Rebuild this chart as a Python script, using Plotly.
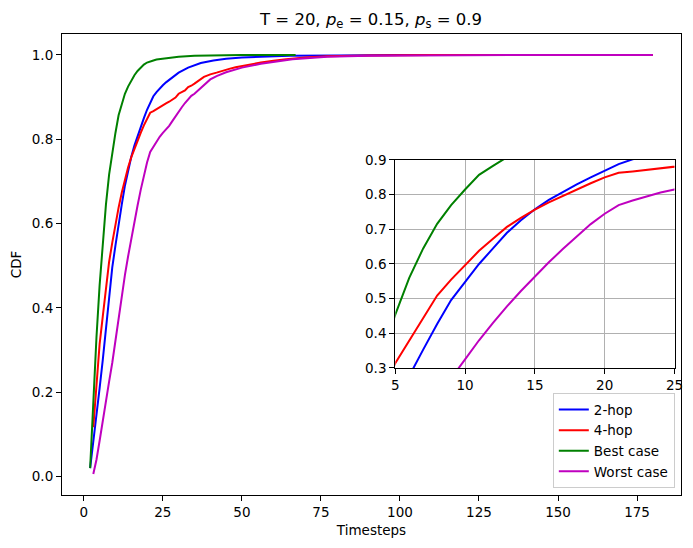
import plotly.graph_objects as go

# Data
t_2hop = [2, 3, 4, 5, 6, 7, 8, 9, 10, 11, 12, 13, 14, 15, 16, 17, 18, 19, 20,
          21, 22, 23, 24, 25, 26, 28, 30, 33, 37, 41, 45, 50, 56, 65, 80, 100, 144]
cdf_2hop = [0.02, 0.08, 0.145, 0.21, 0.277, 0.353, 0.427, 0.496, 0.548, 0.6,
            0.645, 0.69, 0.726, 0.758, 0.785, 0.808, 0.83, 0.85, 0.87, 0.888,
            0.902, 0.912, 0.921, 0.928, 0.935, 0.947, 0.958, 0.97, 0.981, 0.987,
            0.991, 0.994, 0.996, 0.998, 0.999, 1.0, 1.0]

t_4hop = [3, 4, 5, 6, 7, 8, 9, 10, 11, 12, 13, 14, 15, 16, 17, 18, 19, 20, 21,
          22, 23, 24, 25, 26, 27, 28, 29, 30, 31, 32, 33, 34, 35, 36, 37, 38, 39,
          40, 42, 44, 46, 48, 50, 53, 56, 60, 64, 70, 77, 90, 110, 180]
cdf_4hop = [0.117, 0.22, 0.314, 0.38, 0.447, 0.509, 0.555, 0.598, 0.638, 0.673,
            0.707, 0.733, 0.757, 0.778, 0.797, 0.815, 0.833, 0.85, 0.863, 0.867,
            0.871, 0.876, 0.881, 0.885, 0.889, 0.895, 0.899, 0.908, 0.913, 0.916,
            0.924, 0.927, 0.932, 0.938, 0.942, 0.948, 0.951, 0.954, 0.958, 0.963,
            0.967, 0.971, 0.974, 0.978, 0.982, 0.986, 0.99, 0.994, 0.997, 0.999,
            1.0, 1.0]

t_best = [2, 3, 4, 5, 6, 7, 8, 9, 10, 11, 12, 13, 14, 15, 16, 17, 18, 19, 20,
          21, 22, 23, 24, 25, 27, 30, 35, 40, 50, 67]
cdf_best = [0.02, 0.19, 0.33, 0.454, 0.56, 0.645, 0.716, 0.77, 0.815, 0.857,
            0.883, 0.908, 0.925, 0.94, 0.952, 0.962, 0.97, 0.977, 0.982, 0.985,
            0.987, 0.989, 0.99, 0.992, 0.994, 0.996, 0.998, 0.999, 1.0, 1.0]

t_worst = [3, 4, 5, 6, 7, 8, 9, 10, 11, 12, 13, 14, 15, 16, 17, 18, 19, 20, 21,
           22, 23, 24, 25, 26, 27, 28, 29, 30, 31, 32, 33, 34, 35, 36, 37, 38,
           39, 40, 42, 45, 50, 56, 66, 77, 90, 110, 140, 180]
cdf_worst = [0.006, 0.04, 0.085, 0.135, 0.18, 0.225, 0.27, 0.325, 0.38, 0.43,
             0.478, 0.522, 0.564, 0.605, 0.643, 0.68, 0.715, 0.745, 0.77, 0.783,
             0.795, 0.806, 0.815, 0.823, 0.832, 0.843, 0.855, 0.867, 0.876, 0.886,
             0.894, 0.903, 0.908, 0.915, 0.922, 0.93, 0.937, 0.942, 0.95, 0.959,
             0.97, 0.979, 0.99, 0.996, 0.998, 0.999, 1.0, 1.0]

series = [
    ("2-hop", t_2hop, cdf_2hop, "#0000ff"),
    ("4-hop", t_4hop, cdf_4hop, "#ff0000"),
    ("Best case", t_best, cdf_best, "#008000"),
    ("Worst case", t_worst, cdf_worst, "#bf00bf"),
]

fig = go.Figure()

# main curves
for name, t, c, col in series:
    fig.add_trace(go.Scatter(x=t, y=c, mode="lines", name=name,
                             line=dict(color=col, width=2)))

# zoomed inset
for name, t, c, col in series:
    fig.add_trace(go.Scatter(x=t, y=c, mode="lines", name=name, showlegend=False,
                             line=dict(color=col, width=2),
                             xaxis="x2", yaxis="y2"))

font = dict(family="DejaVu Sans", size=13.5, color="black")
axis_style = dict(showline=True, mirror=True, linecolor="black", linewidth=1.1,
                  ticks="outside", ticklen=5, tickwidth=1.1, tickcolor="black",
                  zeroline=False, tickfont=font, automargin=False)

# page body adds an 8px offset, so the figure is a little smaller than the window
fig.update_layout(
    width=685, height=540,
    margin=dict(l=54, r=12, t=26, b=53),
    paper_bgcolor="white", plot_bgcolor="white",
    font=font,
    title=dict(text="T = 20, <i>p</i><sub>e</sub> = 0.15, <i>p</i><sub>s</sub> = 0.9",
               x=0.53, xanchor="center", y=0.98, yanchor="middle",
               font=dict(family="DejaVu Sans", size=16.5, color="black")),
    xaxis=dict(range=[-6.9, 188.9], tickvals=[0, 25, 50, 75, 100, 125, 150, 175],
               showgrid=False, title=dict(text="Timesteps", font=font, standoff=6),
               **axis_style),
    yaxis=dict(range=[-0.0437, 1.0497], tickvals=[0, 0.2, 0.4, 0.6, 0.8, 1.0],
               tickformat=".1f", showgrid=False,
               title=dict(text="CDF", font=font, standoff=10), **axis_style),
    xaxis2=dict(domain=[0.5384, 0.9895], anchor="y2", range=[5, 25],
                tickvals=[5, 10, 15, 20, 25], showgrid=True, gridcolor="#b0b0b0",
                gridwidth=1.1, **axis_style),
    yaxis2=dict(domain=[0.2755, 0.7267], anchor="x2", range=[0.3, 0.9],
                tickvals=[0.3, 0.4, 0.5, 0.6, 0.7, 0.8, 0.9], tickformat=".1f",
                showgrid=True, gridcolor="#b0b0b0", gridwidth=1.1, **axis_style),
    legend=dict(x=0.99, y=0.0145, xanchor="right", yanchor="bottom",
                bgcolor="rgba(255,255,255,0.8)", bordercolor="#cccccc",
                borderwidth=1, font=font, tracegroupgap=2),
    showlegend=True,
)

fig.write_html("out.html")
